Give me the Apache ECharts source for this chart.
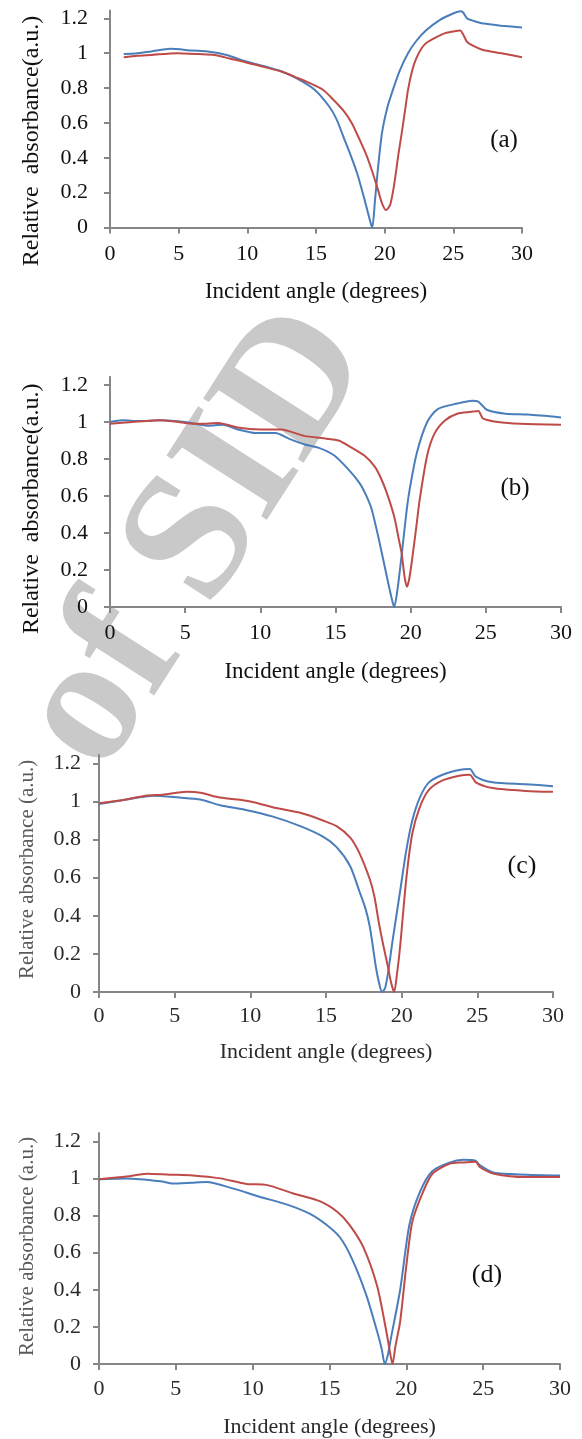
<!DOCTYPE html>
<html>
<head>
<meta charset="utf-8">
<script src="https://cdn.jsdelivr.net/npm/echarts@6/dist/echarts.min.js"></script>
<style>
  html, body { margin: 0; padding: 0; background: #fff; }
  #chart { width: 582px; height: 1439px; }
</style>
</head>
<body>
<div id="chart"></div>
<script>
// ---- data (angle in degrees, relative absorbance) ----
const aBlueX = [1, 2, 3, 4.4, 6, 7.1, 8.5, 9.8, 11, 12.5, 13.6, 14.9, 16, 16.5, 17, 17.5, 18, 18.5, 19, 19.1, 19.3, 19.5, 19.8, 20.2, 20.6, 21.1, 21.7, 22.3, 23, 24, 24.9, 25.5, 25.7, 26, 26.5, 27.2, 28.5, 30]
const aBlueY = [0.995, 1.0, 1.01, 1.025, 1.015, 1.01, 0.99, 0.955, 0.93, 0.895, 0.855, 0.79, 0.69, 0.62, 0.52, 0.42, 0.31, 0.17, 0.02, 0.0, 0.16, 0.33, 0.54, 0.69, 0.79, 0.9, 1.0, 1.07, 1.13, 1.19, 1.225, 1.24, 1.235, 1.2, 1.185, 1.17, 1.158, 1.147]
const aRedX = [1, 2, 3, 4.9, 6.5, 7.6, 8.7, 9.8, 11, 12.5, 13.6, 14.5, 15.5, 16.3, 17, 17.6, 18.2, 18.7, 19.1, 19.5, 19.8, 20.1, 20.4, 20.7, 21, 21.2, 21.5, 21.7, 22, 22.3, 22.7, 23.05, 23.7, 24.4, 25, 25.5, 25.7, 26, 26.5, 27.1, 28.5, 30]
const aRedY = [0.977, 0.985, 0.99, 1.0, 0.995, 0.99, 0.97, 0.95, 0.925, 0.895, 0.86, 0.83, 0.79, 0.73, 0.67, 0.6, 0.5, 0.41, 0.32, 0.22, 0.14, 0.1, 0.13, 0.25, 0.42, 0.52, 0.68, 0.79, 0.9, 0.97, 1.03, 1.06, 1.09, 1.115, 1.125, 1.13, 1.11, 1.065, 1.04, 1.02, 1.0, 0.977]

const bBlueX = [0, 0.8, 2, 3.3, 5, 6.5, 7.5, 8.5, 9.7, 11, 11.9, 12.9, 13.9, 14.9, 15.9, 16.6, 17, 17.4, 17.9, 18.4, 18.7, 18.9, 19.1, 19.4, 19.7, 19.9, 20.4, 21.1, 21.8, 23.1, 24.1, 24.5, 25.1, 26.3, 27.8, 30]
const bBlueY = [1.0, 1.01, 1.005, 1.01, 1.0, 0.98, 0.985, 0.96, 0.94, 0.94, 0.91, 0.88, 0.86, 0.82, 0.74, 0.67, 0.61, 0.53, 0.36, 0.17, 0.06, 0.0, 0.08, 0.28, 0.5, 0.62, 0.83, 1.0, 1.07, 1.1, 1.115, 1.11, 1.065, 1.045, 1.04, 1.025]
const bRedX = [0, 1.5, 3.5, 5, 6, 7.2, 8.5, 10, 11.4, 12.9, 14.4, 15.2, 15.9, 16.9, 17.6, 18, 18.4, 18.9, 19.2, 19.4, 19.6, 19.75, 19.9, 20.1, 20.4, 20.6, 21.1, 21.6, 22.3, 23.1, 24, 24.5, 24.8, 25.8, 27.3, 30]
const bRedY = [0.99, 1.0, 1.01, 0.995, 0.99, 0.995, 0.97, 0.96, 0.96, 0.925, 0.91, 0.9, 0.87, 0.82, 0.76, 0.7, 0.62, 0.49, 0.37, 0.29, 0.16, 0.11, 0.15, 0.26, 0.45, 0.58, 0.82, 0.94, 1.01, 1.045, 1.055, 1.06, 1.02, 1.0, 0.99, 0.985]

const cBlueX = [0, 1.8, 3.6, 5.3, 6.7, 8, 9.7, 11.5, 13.3, 14.8, 15.7, 16.6, 17.2, 17.6, 17.9, 18.3, 18.5, 18.7, 18.9, 19.1, 19.4, 19.9, 20.3, 20.7, 21.2, 21.8, 22.7, 23.8, 24.5, 24.9, 26, 28.2, 30]
const cBlueY = [0.986, 1.01, 1.03, 1.02, 1.01, 0.98, 0.955, 0.92, 0.87, 0.815, 0.76, 0.66, 0.53, 0.44, 0.34, 0.13, 0.05, 0.0, 0.02, 0.1, 0.27, 0.53, 0.74, 0.9, 1.02, 1.1, 1.14, 1.165, 1.17, 1.13, 1.1, 1.09, 1.08]
const cRedX = [0, 1.8, 3.1, 4.2, 5.8, 6.7, 8, 10, 11.7, 13.3, 14.8, 15.7, 16.6, 17.2, 17.9, 18.2, 18.5, 18.8, 19.1, 19.3, 19.5, 19.7, 19.9, 20.3, 20.7, 21.2, 21.8, 22.7, 23.8, 24.5, 24.9, 26, 28.2, 30]
const cRedY = [0.99, 1.01, 1.03, 1.035, 1.05, 1.045, 1.02, 1.0, 0.965, 0.94, 0.9, 0.87, 0.81, 0.73, 0.59, 0.5, 0.36, 0.24, 0.13, 0.05, 0.0, 0.1, 0.24, 0.59, 0.83, 0.97, 1.06, 1.11, 1.135, 1.14, 1.1, 1.07, 1.055, 1.05]

const dBlueX = [0, 1.8, 4, 4.8, 6.1, 7, 8.7, 10.5, 12.2, 13.7, 14.8, 15.7, 16.5, 17.4, 18.1, 18.4, 18.6, 18.8, 19, 19.6, 20.2, 20.9, 21.7, 22.8, 23.7, 24.5, 24.8, 25.7, 27.8, 30]
const dBlueY = [0.995, 1.0, 0.985, 0.972, 0.977, 0.98, 0.946, 0.9, 0.86, 0.81, 0.75, 0.68, 0.56, 0.37, 0.175, 0.08, 0.0, 0.05, 0.14, 0.4, 0.75, 0.93, 1.04, 1.085, 1.1, 1.095, 1.07, 1.03, 1.02, 1.016]
const dRedX = [0, 1.8, 3.1, 4.6, 6.1, 7.9, 9.6, 10.9, 12.6, 14.4, 15.5, 16.3, 17.2, 18.1, 18.7, 18.9, 19.1, 19.3, 19.6, 20, 20.4, 21.1, 21.7, 22.8, 23.7, 24.5, 24.8, 25.7, 27.8, 30]
const dRedY = [0.995, 1.01, 1.025, 1.02, 1.016, 1.0, 0.97, 0.965, 0.92, 0.876, 0.82, 0.75, 0.63, 0.42, 0.175, 0.08, 0.0, 0.1, 0.23, 0.53, 0.77, 0.93, 1.025, 1.078, 1.086, 1.09, 1.06, 1.025, 1.007, 1.007]

const yTicks = [0, 0.2, 0.4, 0.6, 0.8, 1, 1.2]
const panelTags = ['(a)', '(b)', '(c)', '(d)']
const xTitle = 'Incident angle (degrees)'
const yTitles = ['Relative  absorbance(a.u.)', 'Relative  absorbance(a.u.)', 'Relative absorbance (a.u.)', 'Relative absorbance (a.u.)']

const BLUE = '#4a7ebb'
const RED = '#be4b48'
const AXIS = '#868686'
const FONT = '"Liberation Serif", "Times New Roman", serif'

var zip = function (xs, ys) {
    return xs.map(function (x, i) { return [x, ys[i]] })
}

var panels = [
    { blue: zip(aBlueX, aBlueY), red: zip(aRedX, aRedY),
      grid: { left: 110, top: 10.5, width: 412, height: 217 },
      tick: 22, xName: 23, yName: 24, txt: '#111', yTxt: '#111',
      xGap: 53, yGap: 66, xMargin: 16, yMargin: 22, yPad: [0, 44, 0, 0],
      tag: [504, 140], tagSize: 25 },
    { blue: zip(bBlueX, bBlueY), red: zip(bRedX, bRedY),
      grid: { left: 110, top: 376.7, width: 451, height: 230.3 },
      tick: 22, xName: 23, yName: 24, txt: '#111', yTxt: '#111',
      xGap: 53, yGap: 66, xMargin: 15, yMargin: 22, yPad: [0, 34, 0, 0],
      tag: [515, 488], tagSize: 25 },
    { blue: zip(cBlueX, cBlueY), red: zip(cRedX, cRedY),
      grid: { left: 99, top: 754.7, width: 454, height: 237.3 },
      tick: 22, xName: 22, yName: 21, txt: '#2a2a2a', yTxt: '#5a5a5a',
      xGap: 49, yGap: 61, xMargin: 13, yMargin: 18, yPad: [0, 0, 0, 8],
      tag: [522, 866], tagSize: 26 },
    { blue: zip(dBlueX, dBlueY), red: zip(dRedX, dRedY),
      grid: { left: 99, top: 1132.9, width: 461, height: 237.1 },
      tick: 22, xName: 22, yName: 21, txt: '#2a2a2a', yTxt: '#5a5a5a',
      xGap: 52, yGap: 61, xMargin: 14, yMargin: 18, yPad: [0, 0, 0, 4],
      tag: [487, 1275], tagSize: 26 }
]

var option = {
    backgroundColor: '#ffffff',
    animation: false,
    grid: [], xAxis: [], yAxis: [], series: [],
    graphic: [{
        // faint site watermark behind the second panel
        type: 'text', x: 198, y: 540, rotation: 1.0, z: 0, silent: true,
        style: { text: 'of SID', font: 'bold 182px ' + FONT, fill: '#c9c9c9',
                 align: 'center', verticalAlign: 'middle' }
    }]
}

panels.forEach(function (p, i) {
    var axisLine = { lineStyle: { color: AXIS, width: 2 } }
    var axisTick = { length: 6, lineStyle: { color: AXIS, width: 2 } }
    option.grid.push(p.grid)
    option.xAxis.push({
        gridIndex: i, type: 'value', min: 0, max: 30, interval: 5,
        name: xTitle, nameLocation: 'middle', nameGap: p.xGap,
        nameTextStyle: { fontFamily: FONT, fontSize: p.xName, color: p.txt },
        axisLine: axisLine, axisTick: axisTick, splitLine: { show: false },
        axisLabel: { fontFamily: FONT, fontSize: p.tick, color: p.txt, margin: p.xMargin }
    })
    option.yAxis.push({
        gridIndex: i, type: 'value', min: 0, max: 1.245,
        name: yTitles[i], nameLocation: 'middle', nameGap: p.yGap,
        nameTextStyle: { fontFamily: FONT, fontSize: p.yName, color: p.yTxt, padding: p.yPad },
        axisLine: { show: true, lineStyle: axisLine.lineStyle },
        axisTick: { show: true, length: 6, lineStyle: axisTick.lineStyle, customValues: yTicks },
        splitLine: { show: false },
        axisLabel: { fontFamily: FONT, fontSize: p.tick, color: p.txt, margin: p.yMargin, customValues: yTicks }
    })
    option.series.push({
        type: 'line', xAxisIndex: i, yAxisIndex: i, data: p.blue,
        showSymbol: false, smooth: 0.25, z: 3,
        lineStyle: { color: BLUE, width: 2 }
    })
    option.series.push({
        type: 'line', xAxisIndex: i, yAxisIndex: i, data: p.red,
        showSymbol: false, smooth: 0.25, z: 4,
        lineStyle: { color: RED, width: 2 }
    })
    option.graphic.push({
        type: 'text', x: p.tag[0], y: p.tag[1], z: 10,
        style: { text: panelTags[i], font: p.tagSize + 'px ' + FONT, fill: '#111',
                 align: 'center', verticalAlign: 'middle' }
    })
})

var myChart = echarts.init(document.getElementById('chart'), null, { renderer: 'canvas' })
myChart.setOption(option)
</script>
</body>
</html>
